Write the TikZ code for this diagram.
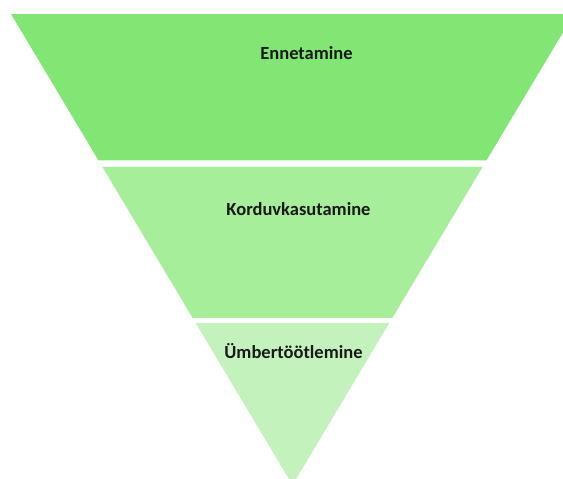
\documentclass[tikz,border=0pt]{standalone}
\usepackage{fontspec}
\setmainfont{Carlito}
\usetikzlibrary{calc}
\definecolor{bandA}{RGB}{129,230,115}
\definecolor{bandB}{RGB}{166,238,154}
\definecolor{bandC}{RGB}{196,242,188}
\tikzset{
  label/.style={font=\bfseries\fontsize{18.5}{22}\selectfont, text=black!90, inner sep=0pt, anchor=base},
}
\begin{document}
\begin{tikzpicture}[x=1pt,y=-1pt]
\useasboundingbox (0,0) rectangle (563,479);
\clip (0,0) rectangle (563,479);
\coordinate (A) at (11,14);
\coordinate (B) at (574,14);
\coordinate (C) at (292.5,485);
% band 1
\fill[bandA] (A) -- (B) -- ($(B)!0.311!(C)$) -- ($(A)!0.311!(C)$) -- cycle;
% band 2
\fill[bandB] ($(A)!0.3248!(C)$) -- ($(B)!0.3248!(C)$) -- ($(B)!0.6454!(C)$) -- ($(A)!0.6454!(C)$) -- cycle;
% band 3
\fill[bandC] ($(A)!0.656!(C)$) -- ($(B)!0.656!(C)$) -- (C) -- cycle;
\node[label] (t1) at (306.5,59) {Ennetamine};
\node[label] (t2) at (298.5,215) {Korduvkasutamine};
\node[label] (t3) at (293.5,358) {Ümbertöötlemine};
\end{tikzpicture}
\end{document}
